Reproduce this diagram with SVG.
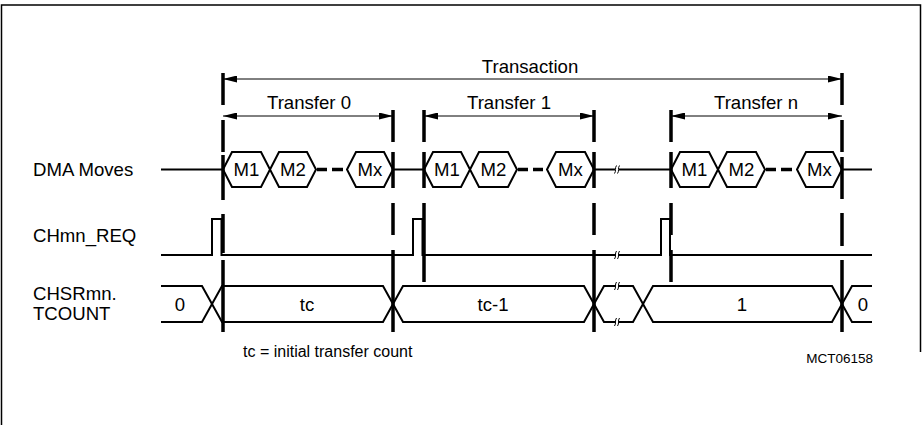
<svg xmlns="http://www.w3.org/2000/svg" width="923" height="425" viewBox="0 0 923 425">
<defs>
<marker id="ah" viewBox="0 0 16 8" refX="16" refY="4" markerWidth="15" markerHeight="7" markerUnits="userSpaceOnUse" orient="auto-start-reverse">
<path d="M0,0 L16,4 L0,8 Z" fill="#000"/>
</marker>
</defs>
<style>
text{font-family:"Liberation Sans",Arial,sans-serif;fill:#000}
.lbl{font-size:18.6px}
.mid{text-anchor:middle}
.sig{fill:none;stroke:#000;stroke-width:2}
.bar{fill:none;stroke:#000;stroke-width:3.5}
.arr{fill:none;stroke:#000;stroke-width:1}
.brk{fill:none;stroke:#000;stroke-width:1}
.hex{fill:#fff;stroke:#000;stroke-width:2}
.dsh{stroke:#000;stroke-width:3.5}
</style>
<rect width="923" height="425" fill="#fff"/>
<g id="frame" fill="none" stroke="#000" stroke-width="1.5">
<path d="M1.5,425 V5 H920.5 V352"/>
</g>
<g id="labels">
<text class="lbl" x="33" y="176">DMA Moves</text>
<text class="lbl" x="33" y="242">CHmn_REQ</text>
<text class="lbl" x="33" y="300">CHSRmn.</text>
<text class="lbl" x="33" y="320">TCOUNT</text>
<text x="243" y="357" font-size="16">tc = initial transfer count</text>
<text x="873" y="363" font-size="13.5" text-anchor="end">MCT06158</text>
</g>
<g id="connectors">
<path class="arr" d="M223,79 H842" marker-start="url(#ah)" marker-end="url(#ah)"/>
<path class="arr" d="M223,116 H393" marker-start="url(#ah)" marker-end="url(#ah)"/>
<path class="arr" d="M424,116 H594" marker-start="url(#ah)" marker-end="url(#ah)"/>
<path class="arr" d="M671,116 H842" marker-start="url(#ah)" marker-end="url(#ah)"/>
</g>
<g id="span-labels">
<text class="lbl mid" x="530" y="73">Transaction</text>
<text class="lbl mid" x="309" y="109">Transfer 0</text>
<text class="lbl mid" x="509" y="109">Transfer 1</text>
<text class="lbl mid" x="756" y="109">Transfer n</text>
</g>
<g id="dma-moves">
<path class="sig" d="M161,169.5 H223 M393,169.5 H424 M594,169.5 H615 M619,169.5 H671 M842,169.5 H872"/>
<g id="t0-moves">
<path class="hex" d="M223,169.5 L232,152 H261 L270,169.5 L261,187 H232 Z"/>
<path class="hex" d="M270,169.5 L279,152 H307 L316,169.5 L307,187 H279 Z"/>
<path class="dsh" d="M317,169.5 H327 M332,169.5 H343"/>
<path class="hex" d="M347,169.5 L356,152 H384 L393,169.5 L384,187 H356 Z"/>
<text class="lbl mid" x="246.5" y="176">M1</text>
<text class="lbl mid" x="293" y="176">M2</text>
<text class="lbl mid" x="370" y="176">Mx</text>
</g>
<g id="t1-moves">
<path class="hex" d="M424,169.5 L433,152 H461 L470,169.5 L461,187 H433 Z"/>
<path class="hex" d="M470,169.5 L479,152 H508 L517,169.5 L508,187 H479 Z"/>
<path class="dsh" d="M518,169.5 H528 M533,169.5 H543"/>
<path class="hex" d="M547,169.5 L556,152 H585 L594,169.5 L585,187 H556 Z"/>
<text class="lbl mid" x="447" y="176">M1</text>
<text class="lbl mid" x="493.5" y="176">M2</text>
<text class="lbl mid" x="570.5" y="176">Mx</text>
</g>
<g id="tn-moves">
<path class="hex" d="M671,169.5 L680,152 H709 L718,169.5 L709,187 H680 Z"/>
<path class="hex" d="M718,169.5 L727,152 H756 L765,169.5 L756,187 H727 Z"/>
<path class="dsh" d="M766,169.5 H776 M781,169.5 H792"/>
<path class="hex" d="M797,169.5 L806,152 H833 L842,169.5 L833,187 H806 Z"/>
<text class="lbl mid" x="694.5" y="176">M1</text>
<text class="lbl mid" x="741.5" y="176">M2</text>
<text class="lbl mid" x="819.5" y="176">Mx</text>
</g>
</g>
<g id="chmn-req">
<path class="sig" d="M161,255 H212 V219 H221.5 V255 H413 V219 H422.5 V255 H615 M619,255 H661 V219 H670 V255 H872"/>
</g>
<g id="tcount">
<path class="sig" d="M161,286 H202 L222,322 H383 L403,286 H584 L604,322 H615 M619,322 H633 L653,286 H832 L852,322 H872"/>
<path class="sig" d="M161,322 H202 L222,286 H383 L403,322 H584 L604,286 H615 M619,286 H633 L653,322 H832 L852,286 H872"/>
<text class="lbl mid" x="180" y="311">0</text>
<text class="lbl mid" x="307" y="311">tc</text>
<text class="lbl mid" x="493" y="311">tc-1</text>
<text class="lbl mid" x="742" y="311">1</text>
<text class="lbl mid" x="863" y="311">0</text>
</g>
<g id="breaks">
<path class="brk" d="M614.5,173.5 C616.5,171 614.5,168 616.5,165.5 M617.5,173.5 C619.5,171 617.5,168 619.5,165.5"/>
<path class="brk" d="M614.5,259 C616.5,256.5 614.5,253.5 616.5,251 M617.5,259 C619.5,256.5 617.5,253.5 619.5,251"/>
<path class="brk" d="M614.5,290 C616.5,287.5 614.5,284.5 616.5,282 M617.5,290 C619.5,287.5 617.5,284.5 619.5,282"/>
<path class="brk" d="M614.5,326 C616.5,323.5 614.5,320.5 616.5,318 M617.5,326 C619.5,323.5 617.5,320.5 619.5,318"/>
</g>
<g id="markers">
<path class="bar" d="M223,73 V105 M223,120 V152 M223,155 V200 M223,214 V253 M223,260 V332"/>
<path class="bar" d="M393,110 V142 M393,152 V188 M393,203 V235 M393,250 V332"/>
<path class="bar" d="M424,110 V142 M424,152 V188 M424,203 V282"/>
<path class="bar" d="M594,110 V142 M594,152 V188 M594,203 V235 M594,250 V332"/>
<path class="bar" d="M671,110 V142 M671,152 V188 M671,203 V235 M671,250 V282"/>
<path class="bar" d="M842,73 V105 M842,120 V152 M842,157 V199 M842,213 V246 M842,260 V332"/>
</g>
</svg>
